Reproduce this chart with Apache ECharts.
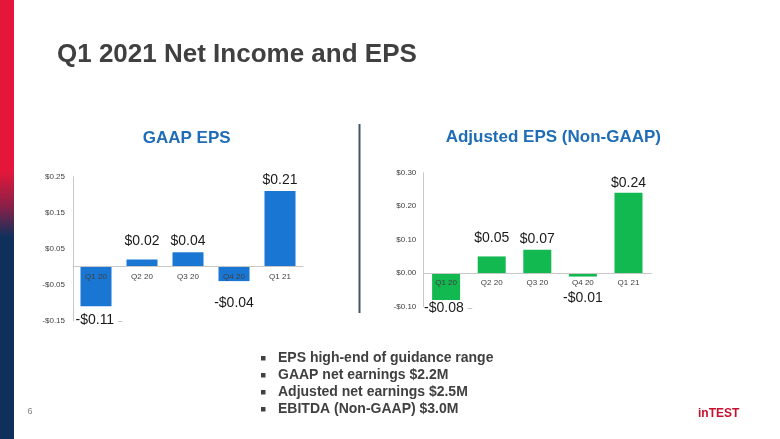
<!DOCTYPE html>
<html>
<head>
<meta charset="utf-8">
<script src="https://cdn.jsdelivr.net/npm/echarts@6/dist/echarts.min.js"></script>
<style>
html,body{margin:0;padding:0;background:#fff;}
#c{width:780px;height:439px;}
</style>
</head>
<body>
<div id="c"></div>
<script>
// ---- data ----
const categories = ['Q1 20', 'Q2 20', 'Q3 20', 'Q4 20', 'Q1 21'];
const gaapEps = [-0.11, 0.02, 0.04, -0.04, 0.21];
const adjustedEps = [-0.08, 0.05, 0.07, -0.01, 0.24];
const gaapAxisRange = [-0.15, 0.25, 0.1];      // min, max, step
const adjustedAxisRange = [-0.10, 0.30, 0.1];  // min, max, step
const pageTitle = 'Q1 2021 Net Income and EPS';
const chartTitles = ['GAAP EPS', 'Adjusted EPS (Non-GAAP)'];
const bullets = [
  'EPS high-end of guidance range',
  'GAAP net earnings $2.2M',
  'Adjusted net earnings $2.5M',
  'EBITDA (Non-GAAP) $3.0M'
];

// ---- helpers ----
const FONT = "'Liberation Sans', Arial, sans-serif";
function money(v) {
  if (Math.abs(v) < 1e-9) v = 0;
  return (v < 0 ? '-' : '') + '$' + Math.abs(v).toFixed(2);
}
function buildItems(vals, dists, dx) {
  return vals.map((v, i) => ({
    value: v,
    label: { position: v >= 0 ? 'top' : 'bottom', distance: dists[i], offset: [dx[i], 0] }
  }));
}
const labelBase = {
  show: true,
  fontFamily: FONT,
  fontSize: 14,
  color: '#1a1a1a',
  formatter: p => p.dataIndex === 0 ? '{v|' + money(p.value) + '} {d|–}' : money(p.value),
  rich: {
    v: { fontFamily: FONT, fontSize: 14, color: '#1a1a1a' },
    d: { fontFamily: FONT, fontSize: 8, color: '#8c8c8c' }
  }
};
const grids = [
  { left: 73, width: 230, top: 176.7, height: 144 },
  { left: 423.3, width: 228, top: 172.7, height: 134 }
];
// pixel distance from grid bottom up to the zero value line
function zeroOffset(g, range) {
  return -g.height * (0 - range[0]) / (range[1] - range[0]);
}
function yAxisCfg(gi, range, margin) {
  return {
    type: 'value', gridIndex: gi,
    min: range[0], max: range[1], interval: range[2],
    axisLine: { show: true, lineStyle: { color: '#c8c8c8', width: 1 } },
    axisTick: { show: false },
    splitLine: { show: false },
    axisLabel: { fontFamily: FONT, fontSize: 8, color: '#404040', margin: margin, formatter: money }
  };
}
function xAxisCfg(gi, range) {
  return {
    type: 'category', gridIndex: gi, data: categories, z: 3,
    position: 'bottom',
    offset: zeroOffset(grids[gi], range),
    axisLine: { show: true, onZero: false, lineStyle: { color: '#c8c8c8', width: 1 } },
    axisTick: { show: false },
    axisLabel: { fontFamily: FONT, fontSize: 8, color: '#404040', margin: 6 }
  };
}

const chart = echarts.init(document.getElementById('c'), null, { renderer: 'canvas' });

const graphics = [
  { type: 'rect', left: 0, top: 0, z: 1,
    shape: { width: 14, height: 439 },
    style: { fill: new echarts.graphic.LinearGradient(0, 0, 0, 1, [
      { offset: 0, color: '#E4173A' },
      { offset: 0.39, color: '#E4173A' },
      { offset: 0.47, color: '#8a2048' },
      { offset: 0.54, color: '#10305C' },
      { offset: 1, color: '#10305C' }
    ]) } },
  { type: 'text', left: 57, top: 42, z: 5,
    style: { text: pageTitle, font: "bold 26px " + FONT, fill: '#404040' } },
  { type: 'text', x: 186.7, y: 138.5, z: 5,
    style: { text: chartTitles[0], font: "bold 17px " + FONT, fill: '#1F6DB7', textAlign: 'center', textVerticalAlign: 'middle' } },
  { type: 'text', x: 553.3, y: 137, z: 5,
    style: { text: chartTitles[1], font: "bold 17px " + FONT, fill: '#1F6DB7', textAlign: 'center', textVerticalAlign: 'middle' } },
  { type: 'line', z: 5,
    shape: { x1: 359.5, y1: 124, x2: 359.5, y2: 313 },
    style: { stroke: '#44546A', lineWidth: 2 } },
  { type: 'text', x: 30, y: 412, z: 5,
    style: { text: '6', font: "9px " + FONT, fill: '#808080', textAlign: 'center', textVerticalAlign: 'middle' } },
  { type: 'text', x: 698, y: 414, z: 5,
    style: { text: 'inTEST', font: "bold 12px " + FONT, fill: '#C8102E', textVerticalAlign: 'middle' } }
];
bullets.forEach((b, i) => {
  const y = 358.5 + i * 17;
  graphics.push({ type: 'rect', z: 5, shape: { x: 261, y: y - 2.5, width: 4.5, height: 4.5 }, style: { fill: '#404040' } });
  graphics.push({ type: 'text', x: 278, y: y, z: 5,
    style: { text: b, font: "bold 14px " + FONT, fill: '#404040', textVerticalAlign: 'middle' } });
});

chart.setOption({
  animation: false,
  backgroundColor: '#ffffff',
  grid: grids,
  xAxis: [xAxisCfg(0, gaapAxisRange), xAxisCfg(1, adjustedAxisRange)],
  yAxis: [yAxisCfg(0, gaapAxisRange, 8), yAxisCfg(1, adjustedAxisRange, 7)],
  series: [
    { type: 'bar', xAxisIndex: 0, yAxisIndex: 0, barWidth: 31,
      itemStyle: { color: '#1976D2' },
      label: labelBase,
      data: buildItems(gaapEps, [7, 11, 4, 15, 4], [3, 0, 0, 0, 0]) },
    { type: 'bar', xAxisIndex: 1, yAxisIndex: 1, barWidth: 28,
      itemStyle: { color: '#12B850' },
      label: labelBase,
      data: buildItems(adjustedEps, [1, 11, 4, 15, 3], [2, 0, 0, 0, 0]) }
  ],
  graphic: graphics
});
</script>
</body>
</html>
